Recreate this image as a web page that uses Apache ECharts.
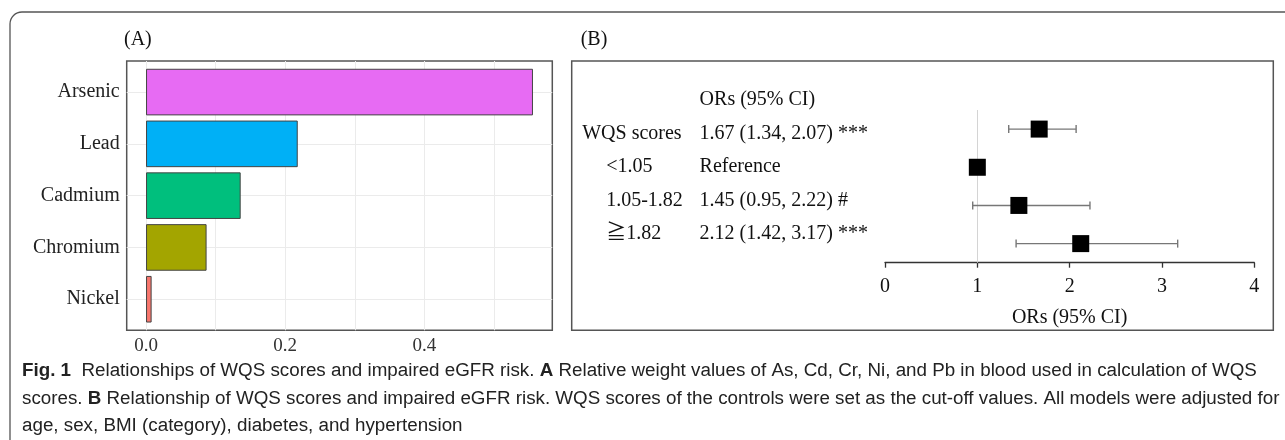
<!DOCTYPE html>
<html>
<head>
<meta charset="utf-8">
<script src="https://cdn.jsdelivr.net/npm/echarts@6.0.0/dist/echarts.min.js"></script>
<style>
  html, body { margin: 0; padding: 0; background: #ffffff; }
  #chart { width: 1285px; height: 440px; }
</style>
</head>
<body>
<div id="chart"></div>
<script>
// ---------- Panel A data ----------
const metals = ['Arsenic', 'Lead', 'Cadmium', 'Chromium', 'Nickel'];
const weights = [0.556, 0.218, 0.136, 0.087, 0.008];
const xTicksA = [0, 0.2, 0.4];
const gridValuesA = [0, 0.1, 0.2, 0.3, 0.4, 0.5];

// ---------- Panel B data ----------
const groups = ['WQS scores', '<1.05', '1.05-1.82', '\u22671.82'];
const ors = [1.67, 1.00, 1.45, 2.12];
const lower = [1.34, null, 0.95, 1.42];
const upper = [2.07, null, 2.22, 3.17];
const orTexts = ['1.67 (1.34, 2.07) ***', 'Reference', '1.45 (0.95, 2.22) #', '2.12 (1.42, 3.17) ***'];
const tableHeader = 'ORs (95% CI)';
const xTicksB = [0, 1, 2, 3, 4];
const refValue = 1;

// ---------- Caption ----------
const captionLines = [
  '{b|Fig. 1}  Relationships of WQS scores and impaired eGFR risk. {b|A} Relative weight values of As, Cd, Cr, Ni, and Pb in blood used in calculation of WQS',
  'scores. {b|B} Relationship of WQS scores and impaired eGFR risk. WQS scores of the controls were set as the cut-off values. All models were adjusted for',
  'age, sex, BMI (category), diabetes, and hypertension'
];

// ---------- styles / layout ----------
const barColors = ['#E76BF3', '#00B0F6', '#00BF7D', '#A3A500', '#F8766D'];
const SERIF = "'Liberation Serif', 'Times New Roman', 'Noto Sans CJK SC', serif";
const SANS = "'Liberation Sans', Arial, sans-serif";
const CAP_SIZE = 18.8;
const boxA = { l: 126.7, t: 61, r: 552.3, b: 330.3 };
const n = metals.length;
const band = (boxA.b - boxA.t) / (n + 0.2);
const maxW = Math.max(...weights);
const expA = maxW * 0.05;

const chart = echarts.init(document.getElementById('chart'), null, { renderer: 'canvas' });

const graphic = [
  { type: 'rect', shape: { x: 10, y: 12, width: 1300, height: 460, r: 12 },
    style: { fill: 'none', stroke: '#555', lineWidth: 1.3 }, z: 0 },
  { type: 'rect', shape: { x: 571.7, y: 61, width: 701.6, height: 269.3 },
    style: { fill: 'none', stroke: '#555', lineWidth: 1.5 }, z: 5 },
  { type: 'text', x: 124, y: 40, style: { text: '(A)', font: '20px ' + SERIF, fill: '#111', verticalAlign: 'middle' } },
  { type: 'text', x: 580.7, y: 40, style: { text: '(B)', font: '20px ' + SERIF, fill: '#111', verticalAlign: 'middle' } },
  { type: 'text', x: 699.6, y: 100, style: { text: tableHeader, font: '20px ' + SERIF, fill: '#111', verticalAlign: 'middle' } }
];
groups.forEach((g, i) => {
  graphic.push({ type: 'text', x: i === 0 ? 582.2 : 606.2, y: 133.5 + i * 33.5,
    style: { text: g, font: '20px ' + SERIF, fill: '#111', verticalAlign: 'middle' } });
  graphic.push({ type: 'text', x: 699.6, y: 133.5 + i * 33.5,
    style: { text: orTexts[i], font: '20px ' + SERIF, fill: '#111', verticalAlign: 'middle' } });
});
captionLines.forEach((line, i) => {
  graphic.push({ type: 'text', x: 22, y: 371 + i * 27.5,
    style: { text: line, fill: '#222', verticalAlign: 'middle',
      font: CAP_SIZE + 'px ' + SANS,
      rich: { b: { fontWeight: 'bold', fontFamily: SANS, fontSize: CAP_SIZE, fill: '#222' } } } });
});

const option = {
  backgroundColor: '#ffffff',
  animation: false,
  grid: [
    { left: boxA.l, top: boxA.t, width: boxA.r - boxA.l, height: boxA.b - boxA.t,
      show: true, borderColor: '#555', borderWidth: 1.5, backgroundColor: 'transparent' },
    { left: boxA.l, top: boxA.t + 0.1 * band, width: boxA.r - boxA.l, height: n * band },
    { left: 885, top: 110, width: 369.3, height: 152.7 }
  ],
  xAxis: [
    { gridIndex: 0, type: 'value', min: -expA, max: maxW + expA,
      axisLine: { show: false }, axisTick: { show: false }, splitLine: { show: false },
      axisLabel: { customValues: xTicksA, formatter: v => v.toFixed(1), fontFamily: SERIF, fontSize: 19, color: '#333', margin: 6 } },
    { gridIndex: 1, type: 'value', min: -expA, max: maxW + expA, show: false },
    { gridIndex: 2, type: 'value', min: xTicksB[0], max: xTicksB[xTicksB.length - 1], interval: 1,
      axisLine: { show: true, onZero: false, lineStyle: { color: '#333', width: 1.3 } },
      axisTick: { show: true, length: 5, lineStyle: { color: '#333', width: 1.3 } },
      splitLine: { show: false },
      axisLabel: { fontFamily: SERIF, fontSize: 20, color: '#111', margin: 14 },
      name: 'ORs (95% CI)', nameLocation: 'middle', nameGap: 45,
      nameTextStyle: { fontFamily: SERIF, fontSize: 20, color: '#111' } }
  ],
  yAxis: [
    { gridIndex: 0, type: 'value', min: 0, max: 1, show: false },
    { gridIndex: 1, type: 'category', data: metals, inverse: true,
      axisLine: { show: false }, axisTick: { show: false },
      axisLabel: { fontFamily: SERIF, fontSize: 20, color: '#222', margin: 7 } },
    { gridIndex: 2, type: 'category', data: groups, inverse: true, show: false }
  ],
  series: [
    { type: 'line', xAxisIndex: 0, yAxisIndex: 0, data: [], z: 1,
      markLine: { silent: true, z: 1, symbol: 'none', label: { show: false },
        lineStyle: { color: '#ebebeb', width: 1, type: 'solid' },
        data: gridValuesA.map(v => ({ xAxis: v })) } },
    { type: 'line', xAxisIndex: 1, yAxisIndex: 1, data: [], z: 1,
      markLine: { silent: true, z: 1, symbol: 'none', label: { show: false },
        lineStyle: { color: '#ebebeb', width: 1, type: 'solid' },
        data: metals.map(m => ({ yAxis: m })) } },
    { type: 'bar', xAxisIndex: 1, yAxisIndex: 1, barWidth: '90%', z: 3,
      itemStyle: { borderColor: '#444', borderWidth: 1 },
      data: weights.map((v, i) => ({ value: v, itemStyle: { color: barColors[i] } })) },
    { type: 'line', xAxisIndex: 2, yAxisIndex: 2, data: [], z: 1,
      markLine: { silent: true, z: 1, symbol: 'none', label: { show: false },
        lineStyle: { color: '#d4d4d4', width: 1, type: 'solid' },
        data: [{ xAxis: refValue }] } },
    { type: 'custom', xAxisIndex: 2, yAxisIndex: 2, z: 2,
      encode: { x: [0, 1], y: 2 },
      data: groups.map((g, i) => [lower[i], upper[i], i]).filter(d => d[0] != null),
      renderItem: function (params, api) {
        const a = api.coord([api.value(0), api.value(2)]);
        const b = api.coord([api.value(1), api.value(2)]);
        const st = { stroke: '#777', lineWidth: 1.4 };
        return { type: 'group', children: [
          { type: 'line', shape: { x1: a[0], y1: a[1], x2: b[0], y2: b[1] }, style: st },
          { type: 'line', shape: { x1: a[0], y1: a[1] - 4, x2: a[0], y2: a[1] + 4 }, style: st },
          { type: 'line', shape: { x1: b[0], y1: b[1] - 4, x2: b[0], y2: b[1] + 4 }, style: st }
        ] };
      } },
    { type: 'scatter', xAxisIndex: 2, yAxisIndex: 2, z: 3, symbol: 'rect', symbolSize: 17,
      itemStyle: { color: '#000', opacity: 1 },
      data: ors.map((v, i) => [v, groups[i]]) }
  ],
  graphic: graphic
};
chart.setOption(option);
</script>
</body>
</html>
